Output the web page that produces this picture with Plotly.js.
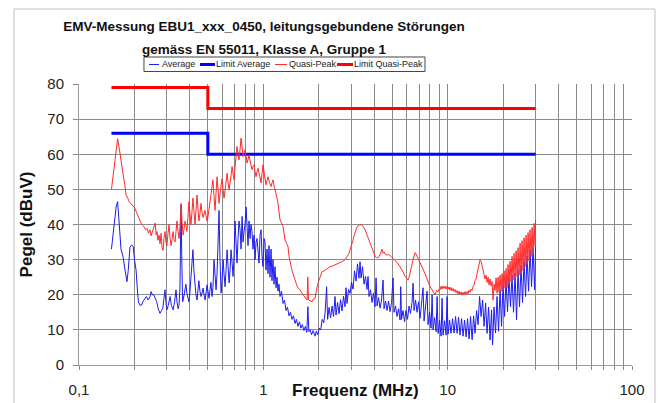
<!DOCTYPE html>
<html>
<head>
<meta charset="utf-8">
<script src="https://cdn.plot.ly/plotly-3.0.1.min.js"></script>
<style>html,body{margin:0;padding:0;background:#fff;}#chart{width:660px;height:403px;}</style>
</head>
<body>
<div id="chart"></div>
<script>
// ---- Data (frequency in MHz, level in dBuV) ----
const avgPoints = [[0.150,33],[0.155,40],[0.159,45],[0.162,46.5],[0.165,40],[0.169,33],[0.173,31],[0.178,27],[0.182,23.7],[0.185,27],[0.189,33.5],[0.193,34.2],[0.197,33.7],[0.200,30],[0.204,27],[0.207,22],[0.210,18],[0.214,17],[0.219,17.1],[0.222,18],[0.228,19],[0.232,19.5],[0.237,18.5],[0.243,19.5],[0.246,20.9],[0.250,20],[0.255,19.9],[0.259,19],[0.264,18],[0.269,16],[0.275,14.7],[0.280,15.5],[0.285,16.2],[0.289,19],[0.293,21.4],[0.296,18],[0.300,15.7],[0.305,17],[0.312,19.5],[0.317,17],[0.324,15.7],[0.330,18],[0.336,21.4],[0.340,18],[0.345,16],[0.349,17],[0.353,22],[0.356,38],[0.358,45.6],[0.361,30],[0.365,18],[0.372,20],[0.380,23],[0.386,20],[0.395,18],[0.400,21],[0.405,26],[0.410,29],[0.415,32.8],[0.420,27],[0.426,22],[0.431,20],[0.437,18.5],[0.442,21],[0.447,24],[0.453,21],[0.459,19.5],[0.465,20.5],[0.471,21.9],[0.477,20],[0.483,18.5],[0.489,20.5],[0.495,22.8],[0.501,21],[0.507,19],[0.514,21.5],[0.520,23.5],[0.527,19.5],[0.533,22],[0.540,30],[0.547,23.4],[0.554,21.4],[0.561,26],[0.568,36],[0.575,44],[0.582,30],[0.590,20.5],[0.597,24],[0.605,30],[0.612,26],[0.620,22.3],[0.628,27],[0.636,32.8],[0.644,28],[0.652,23.4],[0.660,27],[0.668,32.8],[0.677,29],[0.685,25.2],[0.694,31],[0.702,41],[0.711,35],[0.720,29],[0.729,36],[0.738,41],[0.748,38.5],[0.757,33],[0.767,42.3],[0.776,35],[0.786,38],[0.796,40],[0.806,45],[0.816,39],[0.826,34],[0.836,41],[0.847,36],[0.857,40],[0.868,38],[0.879,33],[0.890,37],[0.902,30],[0.913,35],[0.924,36],[0.936,31],[0.948,29],[0.960,37],[0.972,38.5],[0.984,31],[0.996,28],[1.009,36],[1.021,35],[1.034,27],[1.047,33],[1.060,26],[1.073,34],[1.087,25],[1.101,33],[1.114,24],[1.128,30],[1.143,23],[1.157,28],[1.172,22],[1.186,25],[1.201,21],[1.216,23],[1.232,19.5],
[1.255,21],[1.279,17.5],[1.303,18.5],[1.327,15.5],[1.352,16.5],[1.378,14],[1.404,15],[1.430,13],[1.457,14],[1.486,11.8],[1.512,13],[1.541,11],[1.570,12.3],[1.599,10.5],[1.629,11.5],[1.660,9.8],[1.691,11],[1.722,9.3],[1.744,16.6],[1.766,9.5],[1.793,10],[1.826,8.6],[1.861,9.8],[1.908,8.2],[1.936,9.6],[1.972,8.6],[2.010,10.5],[2.047,10],[2.086,13],[2.125,12],[2.165,15],[2.204,22.3],[2.232,13],[2.274,16.4],[2.316,13.4],[2.360,16.8],[2.404,13.8],[2.449,19.5],[2.480,14.2],[2.527,17.8],[2.574,14.6],[2.623,18.6],[2.672,15.4],[2.722,19.6],[2.775,16.6],[2.810,22],[2.845,17.5],[2.900,21.5],[2.954,20.4],[3.010,23.6],[3.066,21.6],[3.124,26.8],[3.183,23.9],[3.243,28.8],[3.304,24.7],[3.347,29.4],[3.389,24.8],[3.453,28],[3.518,23],[3.585,25.2],[3.652,21.5],[3.698,25.2],[3.745,19.5],[3.816,21.4],[3.888,17.8],[3.961,20.4],[4.037,16.6],[4.088,24.8],[4.139,16.8],[4.218,19.2],[4.297,16.2],[4.379,18.5],[4.461,24.2],[4.517,16],[4.603,18.2],[4.689,15.5],[4.778,18.2],[4.869,15.2],[4.961,17.8],[5.054,24.8],[5.117,15],[5.215,16.8],[5.313,13.8],[5.413,16],[5.517,12.8],[5.565,22.3],[5.620,13],[5.727,15.5],[5.835,12.3],[5.945,15.6],[6.058,13],[6.172,16.8],[6.289,14.7],[6.408,17.8],[6.489,23.3],[6.571,15.5],[6.695,18.5],[6.822,15],[6.951,18],[7.084,13.3],[7.218,17.2],[7.354,22],[7.447,12.5],[7.588,16.2],[7.732,21],[7.829,11.5],[7.978,15],[8.129,10.5],[8.231,20],[8.334,10],[8.492,13.5],[8.652,9.5],[8.761,19.5],[8.870,9],[9.038,12.8],[9.209,8.2],[9.324,19],[9.441,8.5],[9.620,12.6],[9.802,8.5],[9.925,19.5],[10.05,8.8],[10.24,12.8],[10.43,9],[10.63,13.2],[10.83,9.1],[11.04,13.8],[11.25,9],[11.46,13.6],[11.67,8.5],[11.90,13.2],[12.12,8.2],[12.35,12.8],[12.59,8],[12.82,13.2],[13.07,7.4],[13.31,13.8],[13.57,7.2],[13.82,14],[14.08,9],[14.35,15.5],[14.62,11.5],[14.90,19.5],[15.18,13.8],[15.47,18.5],[15.76,11],[16.06,17.6],[16.36,9],[16.67,16.5],[16.98,7.1],[17.30,15.7],[17.52,5.7],[17.85,16.5],[18.19,9.1],[18.53,19.5],[18.88,9.6],[19.24,21.4],[19.60,11],[19.97,23],[20.35,13.8],[20.73,24.4],[21.12,15.2],[21.52,25],[21.93,16.6],[22.34,25.6],[22.76,15],[23.21,26.1],[23.64,12.8],[24.09,27.3],[24.54,16.6],[25.01,28.4],[25.48,17.8],[25.96,29.5],[26.46,19.5],[26.96,31],[27.47,21],[27.99,32.8],[28.52,22.3],[29.06,33.5],[29.62,21.4],[30.0,33.7]];

const qpPoints = [[0.150,50],[0.155,56],[0.159,61],[0.162,64.4],[0.165,62],[0.167,60.4],[0.171,57.5],[0.173,54.7],[0.177,51.5],[0.180,48.4],[0.184,47.5],[0.187,46.5],[0.191,46],[0.194,45.6],[0.198,45.2],[0.201,44.6],[0.205,43.5],[0.209,42.3],[0.212,41.5],[0.217,40.4],[0.221,39.8],[0.225,39.4],[0.230,38.5],[0.234,38.9],[0.238,37.5],[0.243,38.5],[0.246,36.8],[0.249,37.6],[0.253,39],[0.259,40.4],[0.262,37],[0.265,38],[0.268,35.5],[0.272,37],[0.275,34.5],[0.279,37.5],[0.282,33.5],[0.286,32.6],[0.289,36],[0.293,38],[0.296,35],[0.300,34],[0.304,37.5],[0.308,40],[0.312,36],[0.316,34],[0.320,36],[0.324,38],[0.328,35.5],[0.332,35],[0.336,38],[0.340,41],[0.345,38],[0.349,36],[0.353,39],[0.358,46],[0.362,41],[0.367,37],[0.371,38.5],[0.376,41],[0.381,39.5],[0.385,38],[0.390,42],[0.395,46.5],[0.400,43],[0.405,40],[0.410,43.5],[0.415,47.5],[0.420,44],[0.426,40],[0.431,44],[0.437,48.4],[0.442,44.5],[0.447,41],[0.453,43],[0.459,46],[0.465,43.5],[0.471,42],[0.477,43],[0.483,44],[0.489,42.5],[0.495,41],[0.501,42.3],[0.507,44.5],[0.514,47],[0.523,50],[0.533,52.7],[0.540,48],[0.547,44],[0.554,49],[0.561,53.6],[0.568,50],[0.575,46],[0.586,50],[0.597,53],[0.605,50],[0.612,47.5],[0.624,51],[0.636,54.6],[0.644,52],[0.652,49.9],[0.664,53],[0.677,56.5],[0.685,54.5],[0.694,52.7],[0.706,57.5],[0.720,62.2],[0.729,60],[0.738,58.4],[0.748,61.5],[0.757,64.6],[0.767,62],[0.776,59.3],[0.786,60.5],[0.796,61.3],[0.806,59.5],[0.816,57.5],[0.826,58.5],[0.836,59.8],[0.852,57.5],[0.868,55.6],[0.879,56.5],[0.890,57],[0.902,55],[0.913,53.6],[0.924,55],[0.936,56],[0.954,54],[0.972,51.8],[0.984,54.5],[0.996,57],[1.015,54],[1.034,51.3],[1.047,52.5],[1.060,53.6],[1.080,52],[1.101,50.8],[1.114,51.8],[1.128,52.7],[1.150,50.5],[1.172,48.9],[1.186,47.5],[1.201,46],[1.216,43.5],[1.232,41.3],[1.255,40.5],[1.279,39.4],[1.295,37.5],[1.311,35.6],[1.336,34.6],[1.361,33.7],[1.378,31],[1.396,29],[1.422,27.5],[1.449,26],[1.467,25],[1.486,24],[1.512,23],[1.541,22],[1.560,21.7],[1.582,21.4],[1.612,20.6],[1.642,20],[1.663,19.8],[1.684,19.5],[1.705,19],[1.727,18.5],[1.742,25],[1.758,18.5],[1.792,18.3],[1.838,18],[1.869,18.8],[1.908,19],[1.936,21],[1.972,23],[2.031,25],[2.083,26.6],[2.135,26.8],[2.190,27.2],[2.244,27.6],[2.301,28],[2.375,28.2],[2.449,28.5],[2.527,28.8],[2.607,29],[2.690,29.5],[2.775,30],[2.845,30.8],[2.900,31.5],[2.954,32.8],[3.010,34],[3.066,35.5],[3.105,36.8],[3.144,38],[3.204,39],[3.265,39.6],[3.347,40],[3.411,39.8],[3.476,39.5],[3.563,38.5],[3.631,37.3],[3.698,36],[3.793,34.7],[3.865,33.5],[3.937,32.5],[4.037,31],[4.114,30.6],[4.192,30.5],[4.297,31.5],[4.352,32.5],[4.406,33],[4.461,31.8],[4.517,32.2],[4.603,31.5],[4.689,31.3],[4.778,31.5],[4.869,31],[4.961,30.8],[5.054,30.4],[5.150,30],[5.248,29.5],[5.380,28.8],[5.517,28],[5.620,27.3],[5.727,26.5],[5.873,25.2],[5.985,24.6],[6.097,24.2],[6.172,25],[6.252,26],[6.370,28],[6.489,30],[6.571,31.2],[6.655,32],[6.739,31.6],[6.824,31],[6.953,30.2],[7.084,29.4],[7.218,28.5],[7.354,27.5],[7.447,26.8],[7.540,26],[7.683,24.8],[7.829,23.5],[7.927,22.8],[8.027,22.3],[8.179,21.6],[8.334,21],[8.438,20.4],[8.544,20],[8.707,21.2],[8.870,20.8],[8.980,21.6],[9.094,21.4],[9.209,22.4],[9.324,21.6],[9.441,22.5],[9.559,21.8],[9.680,22.4],[9.802,21.6],[9.925,22.4],[10.05,21.6],[10.17,22.2],[10.30,21.3],[10.43,22.1],[10.56,21.1],[10.69,21.8],[10.83,20.9],[10.97,21.5],[11.10,20.6],[11.24,21.2],[11.38,20.2],[11.53,21],[11.67,20.1],[11.82,20.8],[11.97,19.9],[12.12,20.7],[12.27,20],[12.43,20.9],[12.58,20.1],[12.74,20.9],[12.90,20.3],[13.06,21.3],[13.23,20.7],[13.39,21.6],[13.56,21.2],[13.73,22.3],[13.91,22.8],[14.08,24],[14.26,24.5],[14.44,26],[14.62,27.5],[14.80,28.8],[14.99,29.9],[15.18,29.5],[15.37,28],[15.56,26.5],[15.76,25.5],[15.96,24.5],[16.16,25.6],[16.36,23.5],[16.57,25],[16.77,22.8],[16.98,24.5],[17.20,22.5],[17.41,23.8],[17.63,18.5],[17.85,23],[18.08,21.2],[18.31,24.8],[18.54,20.4],[18.77,25],[19.01,20.8],[19.24,25.6],[19.49,21],[19.73,26],[19.98,21.4],[20.23,26.8],[20.48,21.8],[20.74,27.5],[21.00,22],[21.27,28.6],[21.53,23],[21.80,29.5],[22.08,23.6],[22.35,30.9],[22.63,24.2],[22.92,31.8],[23.21,24.8],[23.50,32.5],[23.79,25.2],[24.09,33.4],[24.40,25.6],[24.71,34.7],[25.02,26],[25.33,35.4],[25.65,26.8],[25.97,36.2],[26.30,28],[26.63,37],[26.97,28.8],[27.31,37.7],[27.65,29.6],[27.99,38.5],[28.35,30.9],[28.70,39.2],[29.06,31.8],[29.43,40.3],[29.80,33.7],[30.0,41.3]];

const limitFreq = [0.15, 0.5, 0.5, 30];
const limitAverage = [66, 66, 60, 60];
const limitQuasiPeak = [79, 79, 73, 73];

const seriesNames = ['Average', 'Limit Average', 'Quasi-Peak', 'Limit Quasi-Peak'];
const seriesColors = ['#1c1cf0', '#0000ff', '#ff2a2a', '#ff0000'];
const seriesWidths = [1, 3, 1, 3];

const xTickVals = [0.1,0.2,0.3,0.4,0.5,0.6,0.7,0.8,0.9,1,2,3,4,5,6,7,8,9,10,20,30,40,50,60,70,80,90,100];
const xTickText = ['0,1','','','','','','','','','1','','','','','','','','','10','','','','','','','','','100'];
const yTickVals = [0,10,20,30,40,50,60,70,80];

// ---- Chart ----
const FONT = 'Liberation Sans, Arial, sans-serif';
const seriesX = [avgPoints.map(p => p[0]), limitFreq, qpPoints.map(p => p[0]), limitFreq];
const seriesY = [avgPoints.map(p => p[1]), limitAverage, qpPoints.map(p => p[1]), limitQuasiPeak];
const traces = seriesNames.map((name, i) => ({
  x: seriesX[i], y: seriesY[i], name: name, type: 'scatter', mode: 'lines',
  line: {color: seriesColors[i], width: seriesWidths[i]}, showlegend: false
}));

// Compact legend box (Excel style) placed above the plot, in paper coordinates
const legendBox = {x0: 0.1175, x1: 0.6257, y0: 1.0445, y1: 1.0961, yMid: 1.0694};
const legendSample = [[0.1266, 0.1447], [0.2188, 0.2459], [0.3544, 0.3761], [0.4665, 0.4955]];
const legendTextX = [0.1483, 0.2459, 0.3779, 0.4955];

const shapes = [{
  type: 'rect', xref: 'paper', yref: 'paper',
  x0: -0.1175, x1: 1.0416, y0: -0.2, y1: 1.2669,
  line: {color: '#c0c0c0', width: 1}, fillcolor: 'rgba(0,0,0,0)', layer: 'below'
}, {
  type: 'rect', xref: 'paper', yref: 'paper',
  x0: legendBox.x0, x1: legendBox.x1, y0: legendBox.y0, y1: legendBox.y1,
  line: {color: '#444', width: 1}, fillcolor: '#ffffff'
}];
const annotations = [{
  text: 'Frequenz (MHz)', xref: 'paper', yref: 'paper', x: 0.5, y: -0.09,
  xanchor: 'center', yanchor: 'middle', showarrow: false,
  font: {family: FONT, size: 17, weight: 'bold', color: '#111'}
}];
seriesNames.forEach((name, i) => {
  shapes.push({type: 'line', xref: 'paper', yref: 'paper',
    x0: legendSample[i][0], x1: legendSample[i][1], y0: legendBox.yMid, y1: legendBox.yMid,
    line: {color: seriesColors[i], width: seriesWidths[i]}});
  annotations.push({text: name, xref: 'paper', yref: 'paper', x: legendTextX[i], y: legendBox.yMid,
    xanchor: 'left', yanchor: 'middle', showarrow: false, borderpad: 0,
    font: {family: FONT, size: 9, color: '#222'}});
});

const layout = {
  width: 660, height: 403,
  margin: {l: 79, r: 28, t: 84, b: 38},
  paper_bgcolor: '#ffffff', plot_bgcolor: '#ffffff',
  font: {family: FONT, color: '#111'},
  title: {
    text: '<span style="font-size:13.5px">EMV-Messung EBU1_xxx_0450, leitungsgebundene Störungen</span><br><span style="font-size:13.5px">gemäss EN 55011, Klasse A, Gruppe 1</span>',
    font: {family: FONT, size: 17.7, weight: 'bold', color: '#111'},
    x: 0.4, xanchor: 'center', xref: 'container',
    y: 0.923, yanchor: 'top', yref: 'container'
  },
  showlegend: false,
  xaxis: {
    type: 'log', range: [-1, 2],
    tickmode: 'array', tickvals: xTickVals, ticktext: xTickText,
    showgrid: true, gridcolor: '#8a8a8a', gridwidth: 1,
    ticks: 'outside', ticklen: 4, tickcolor: '#8a8a8a',
    showline: true, linecolor: '#9a9a9a', linewidth: 1,
    zeroline: false, ticklabelstandoff: 7,
    tickfont: {family: FONT, size: 15, color: '#222'}
  },
  yaxis: {
    range: [0, 80], tickmode: 'array', tickvals: yTickVals,
    showgrid: true, gridcolor: '#8a8a8a', gridwidth: 1,
    ticks: 'outside', ticklen: 5, tickcolor: '#8a8a8a',
    showline: true, linecolor: '#9a9a9a', linewidth: 1,
    zeroline: false, ticklabelstandoff: 6,
    tickfont: {family: FONT, size: 15, color: '#222'},
    title: {text: 'Pegel (dBuV)', font: {family: FONT, size: 17, weight: 'bold', color: '#111'}, standoff: 10}
  },
  annotations: annotations,
  shapes: shapes
};

Plotly.newPlot('chart', traces, layout, {displayModeBar: false, staticPlot: true});
</script>
</body>
</html>
